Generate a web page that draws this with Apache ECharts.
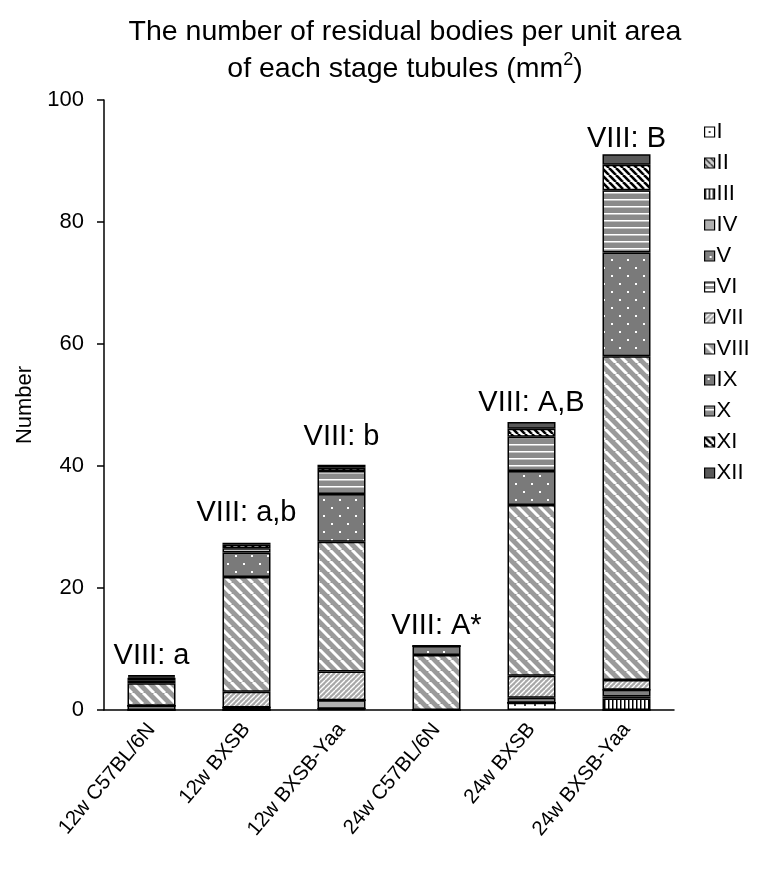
<!DOCTYPE html>
<html><head><meta charset="utf-8">
<script src="https://cdn.jsdelivr.net/npm/echarts@6/dist/echarts.min.js"></script>
<style>html,body{margin:0;padding:0;background:#fff}#c{width:782px;height:870px}</style>
</head><body><div id="c"></div>
<script>
const categories = ['12w C57BL/6N','12w BXSB','12w BXSB-Yaa','24w C57BL/6N','24w BXSB','24w BXSB-Yaa'];
const stages = ['I','II','III','IV','V','VI','VII','VIII','IX','X','XI','XII'];
const sI    = [0,   0,   0.2, 0,   1.2, 0];
const sII   = [0,   0,   0,   0,   0,   0];
const sIII  = [0,   0,   0,   0,   0,   1.9];
const sIV   = [0.7, 0.4, 1.4, 0,   0,   0.3];
const sV    = [0,   0,   0,   0,   0,   1.1];
const sVI   = [0,   0,   0,   0,   0.8, 0];
const sVII  = [0,   2.6, 4.7, 0,   3.6, 1.6];
const sVIII = [3.7, 18.8,21.3,9.0, 28.0,53.1];
const sIX   = [0.4, 4.0, 7.8, 1.5, 5.6, 17.0];
const sX    = [0.5, 0.7, 3.8, 0,   5.6, 10.2];
const sXI   = [0.2, 0.6, 0.5, 0,   1.3, 4.2];
const sXII  = [0.2, 0.3, 0.5, 0,   1.1, 1.7];
const annotations = ['VIII: a','VIII: a,b','VIII: b','VIII: A*','VIII: A,B','VIII: B'];
const yTicks = [0,20,40,60,80,100];
const stageValues = [sI,sII,sIII,sIV,sV,sVI,sVII,sVIII,sIX,sX,sXI,sXII];
// vertical nudges (px) of the significance labels, as placed in the original figure
const labelNudge = [0,-10,-8,0,0,4];
const FONT = 'Liberation Sans, Arial, sans-serif';

function tile(size, bg, draw){
  const c = document.createElement('canvas'); c.width = size; c.height = size;
  const g = c.getContext('2d'); g.fillStyle = bg; g.fillRect(0,0,size,size); draw(g,size);
  return {image:c, repeat:'repeat'};
}
function diag(g,S,color,w,down){
  g.strokeStyle=color; g.lineWidth=w;
  for(let k=-1;k<=1;k++){ g.beginPath();
    if(down){ g.moveTo(k*S,0); g.lineTo(k*S+S,S);} else { g.moveTo(k*S,S); g.lineTo(k*S+S,0);} g.stroke(); }
}
const fills = {
  'I': tile(10,'#ffffff',(g)=>{g.fillStyle='#444';g.fillRect(4,4,2,2);}),
  'II': tile(6,'#d0d0d0',(g,S)=>diag(g,S,'#333',1.5,true)),
  'III': tile(4,'#ffffff',(g)=>{g.fillStyle='#000';g.fillRect(0,0,1.5,4);}),
  'IV': '#b0b0b0',
  'V': tile(12,'#808080',(g)=>{g.fillStyle='#fff';g.fillRect(5,5,2,2);}),
  'VI': tile(5,'#8c8c8c',(g)=>{g.fillStyle='#fff';g.fillRect(0,2,5,2);}),
  'VII': tile(5,'#a8a8a8',(g,S)=>diag(g,S,'#ffffff',1.3,false)),
  'VIII': tile(11,'#9a9a9a',(g,S)=>diag(g,S,'#ffffff',3,true)),
  'IX': tile(16,'#7a7a7a',(g)=>{g.fillStyle='#fff';g.fillRect(3,3,2,2);g.fillRect(11,11,2,2);}),
  'X': tile(7,'#8a8a8a',(g)=>{g.fillStyle='#fff';g.fillRect(0,3,7,1.5);}),
  'XI': tile(7,'#ffffff',(g,S)=>diag(g,S,'#000',2.6,true)),
  'XII': '#595959'
};

const series = stages.map((s,i)=>({
  name:s, type:'bar', stack:'t', barWidth:48,
  data: stageValues[i],
  itemStyle:{color:fills[s], borderColor:'#000', borderWidth:1.5},
  emphasis:{disabled:true}
}));
series.push({
  name:'lbl', type:'bar', stack:'t', barWidth:48,
  data: categories.map((c,i)=>({value:0, label:{offset:[0,labelNudge[i]]}})),
  itemStyle:{color:'transparent'},
  label:{show:true, position:'top', distance:5, color:'#000', fontSize:29, fontFamily:FONT,
    formatter:(p)=>annotations[p.dataIndex]}
});

const chart = echarts.init(document.getElementById('c'), null, {renderer:'canvas'});
chart.setOption({
  animation:false,
  backgroundColor:'#fff',
  title:{ text:'The number of residual bodies per unit area\nof each stage tubules (mm{s|2})', left:400, textAlign:'center', top:9,
    textStyle:{fontFamily:FONT, fontSize:28.5, fontWeight:'normal', color:'#000', lineHeight:37,
      rich:{s:{fontSize:18, verticalAlign:'top', padding:[0,0,14,0], fontFamily:FONT, color:'#000'}}}},
  legend:{ orient:'vertical', left:699, top:116, itemWidth:10, itemHeight:10, itemGap:9, icon:'rect',
    data: stages, textStyle:{fontSize:22, color:'#000', fontFamily:FONT, padding:[0,0,0,-3], lineHeight:22},
    itemStyle:{borderColor:'#000', borderWidth:1.2}, selectedMode:false },
  grid:{ left:104, top:100, width:570, height:610, containLabel:false },
  xAxis:{ type:'category', data:categories,
    axisLine:{lineStyle:{color:'#000', width:1.5}}, axisTick:{show:false},
    axisLabel:{rotate:50, fontSize:20.5, color:'#000', margin:16, fontFamily:FONT} },
  yAxis:{ type:'value', min:yTicks[0], max:yTicks[yTicks.length-1], interval:20,
    name:'Number', nameLocation:'middle', nameGap:61, nameRotate:90,
    nameTextStyle:{fontSize:22, color:'#000', fontFamily:FONT},
    axisLine:{show:true, lineStyle:{color:'#000', width:1.5}},
    axisTick:{show:true, length:7, lineStyle:{color:'#000', width:1.5}},
    splitLine:{show:false},
    axisLabel:{fontSize:22, color:'#000', margin:20, fontFamily:FONT} },
  series: series
});
</script></body></html>
